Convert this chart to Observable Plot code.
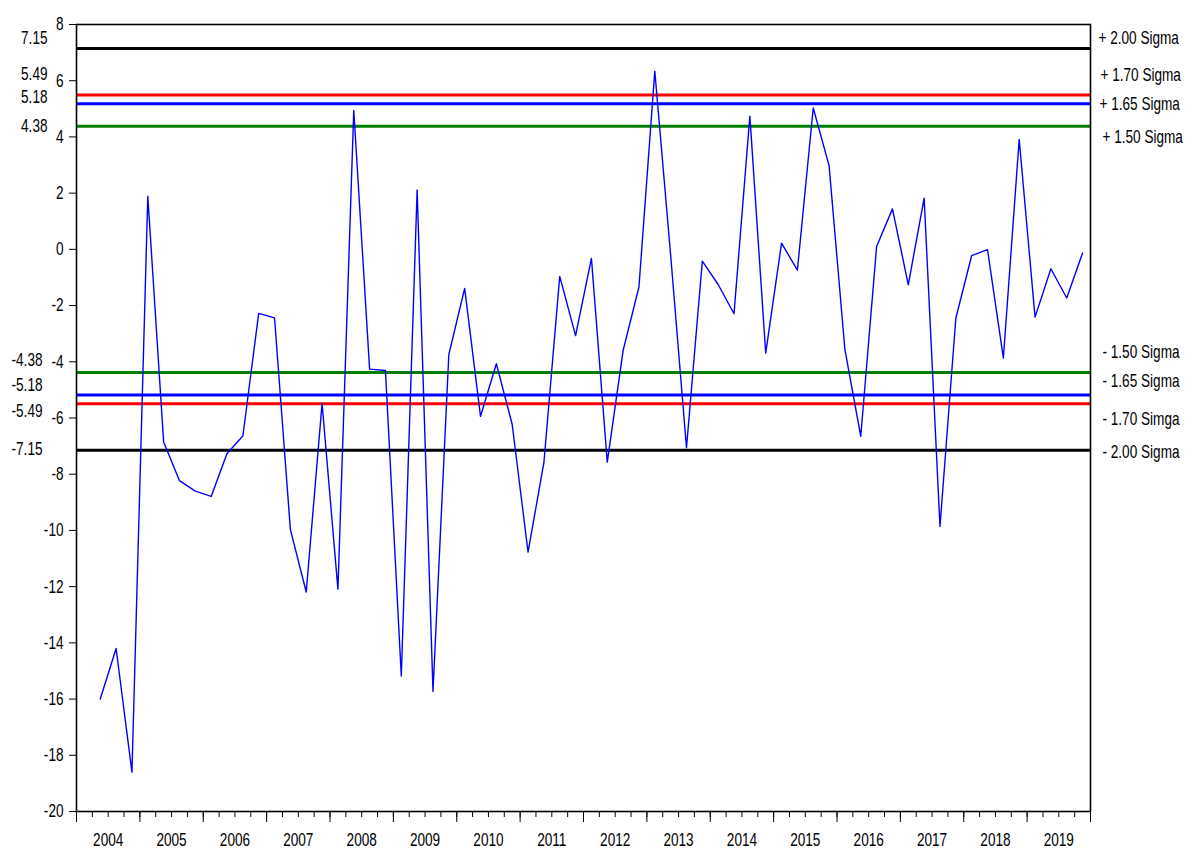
<!DOCTYPE html>
<html>
<head>
<meta charset="utf-8">
<script src="https://cdn.jsdelivr.net/npm/d3@7"></script>
<script src="https://cdn.jsdelivr.net/npm/@observablehq/plot@0.6"></script>
<style>
  html, body { margin: 0; padding: 0; background: #fff; }
  #chart svg { display: block; }
</style>
</head>
<body>
<div id="chart"></div>
<script>
// ---- Data ----
const startYear = 2004;
const startQuarter = 2;
const values = [
  -16.0, -14.2, -18.6, 1.89, -6.85, -8.23, -8.6, -8.79, -7.26, -6.64,
  -2.28, -2.44, -9.97, -12.19, -5.48, -12.09, 4.94, -4.26, -4.31, -15.18,
  2.11, -15.73, -3.74, -1.39, -5.94, -4.07, -6.23, -10.77, -7.59, -0.96,
  -3.07, -0.32, -7.57, -3.6, -1.34, 6.34, -0.2, -7.06, -0.42, -1.25,
  -2.29, 4.74, -3.69, 0.22, -0.74, 5.03, 2.98, -3.57, -6.65, 0.1,
  1.44, -1.26, 1.82, -9.86, -2.45, -0.22, -0.01, -3.87, 3.91, -2.41,
  -0.69, -1.73, -0.13
];
const years = d3.range(2004, 2020);
const yTicks = d3.range(-20, 9, 2);
const sigmaValues = [7.15, 5.49, 5.18, 4.38, -4.38, -5.18, -5.49, -7.15];
const sigmaLeftLabels = ["7.15", "5.49", "5.18", "4.38", "-4.38", "-5.18", "-5.49", "-7.15"];
const sigmaRightLabels = ["+ 2.00 Sigma", "+ 1.70 Sigma", "+ 1.65 Sigma", "+ 1.50 Sigma",
                          "- 1.50 Sigma", "- 1.65 Sigma", "- 1.70 Simga", "- 2.00 Sigma"];

// ---- Styles / layout ----
const sigmaColors = ["#000000", "#ff0000", "#0000ff", "#008000", "#008000", "#0000ff", "#ff0000", "#000000"];
const leftNudge = [-10, -20.5, -7, 0, -12, -10, 7, -1];
const leftShift = [-29, -29, -29, -29, -34, -34, -34, -34];
const rightNudge = [-10, -20, 0, 11, -20, -14, 15, 2];
const rightShift = [8, 10, 9, 12, 12, 12, 12, 12];
const font = "'Liberation Sans', Arial, sans-serif";

// quarter index (0 = start of 2004) for each observation, at mid-quarter
const series = values.map((v, i) => {
  const q = (startQuarter - 1) + i;
  return {t: (startYear - 2004) * 4 + q + 0.5, v};
});

const marks = [];
// sigma lines
sigmaValues.forEach((s, i) => {
  marks.push(Plot.ruleY([s], {stroke: sigmaColors[i], strokeWidth: 3}));
});
// data line
marks.push(Plot.line(series, {x: "t", y: "v", stroke: "#0000ff", strokeWidth: 1.4}));
// frame
marks.push(Plot.frame({stroke: "#000", strokeWidth: 1.6}));
// y axis
marks.push(Plot.axisY(yTicks, {label: null, tickSize: 7, tickPadding: 6, tickFormat: d => String(d), strokeWidth: 1}));
// x axis: quarterly minor ticks, yearly major ticks, year labels centered
marks.push(Plot.axisX(d3.range(0, years.length * 4 + 1), {label: null, tickSize: 6, tickFormat: () => "", strokeWidth: 1}));
marks.push(Plot.axisX(d3.range(0, years.length + 1).map(i => i * 4), {label: null, tickSize: 11, tickFormat: () => "", strokeWidth: 1}));
marks.push(Plot.axisX(years.map((y, i) => i * 4 + 2), {label: null, tickSize: 0, tickPadding: 21, tickFormat: d => String(years[(d - 2) / 4])}));
// sigma value labels (left) and sigma names (right)
sigmaValues.forEach((s, i) => {
  marks.push(Plot.text([s], {y: d => d, text: () => sigmaLeftLabels[i], frameAnchor: "left", textAnchor: "end", dx: leftShift[i], dy: leftNudge[i], fill: "#000"}));
  marks.push(Plot.text([s], {y: d => d, text: () => sigmaRightLabels[i], frameAnchor: "right", textAnchor: "start", dx: rightShift[i], dy: rightNudge[i], fill: "#000"}));
});

const chart = Plot.plot({
  width: 1193,
  height: 848,
  marginLeft: 76,
  marginRight: 103,
  marginTop: 24,
  marginBottom: 37,
  x: {type: "linear", domain: [0, years.length * 4], axis: null},
  y: {type: "linear", domain: [-20, 8], axis: null},
  style: {fontFamily: font, fontSize: "16px", color: "#000", background: "#fff", overflow: "visible"},
  marks
});
// condensed, slightly tall text, as in the reference
chart.querySelectorAll("text").forEach(t => {
  const tr = t.getAttribute("transform");
  if (tr) t.setAttribute("transform", tr + " scale(0.85,1.15)");
});
document.getElementById("chart").appendChild(chart);
</script>
</body>
</html>
